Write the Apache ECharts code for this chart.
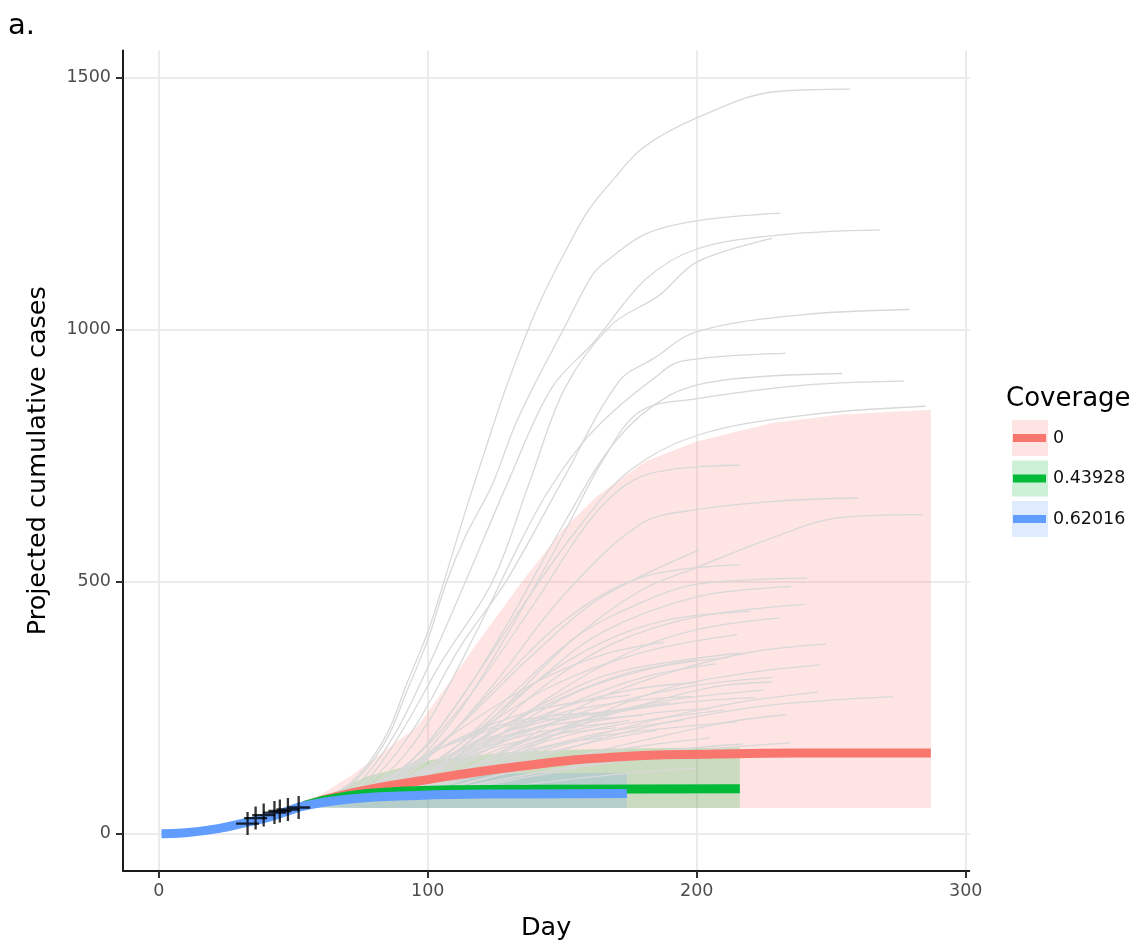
<!DOCTYPE html>
<html>
<head>
<meta charset="utf-8">
<title>Projected cumulative cases</title>
<script src="https://cdn.jsdelivr.net/npm/echarts@6/dist/echarts.min.js"></script>
<style>
  html, body { margin: 0; padding: 0; background: #fff; }
  #chart { width: 1140px; height: 946px; }
</style>
</head>
<body>
<div id="chart"></div>
<script>
// axis ticks
const dayTicks = [0, 100, 200, 300];
const caseTicks = [0, 500, 1000, 1500];

// legend
const coverageLevels = ["0", "0.43928", "0.62016"];
const coverageColors = ["#F8766D", "#00BA38", "#619CFF"];
const coverageFills = ["rgba(248,118,109,0.2)", "rgba(0,186,56,0.2)", "rgba(97,156,255,0.2)"];

// observed cumulative cases
const obsDays = [33, 36, 39, 43, 45, 48, 52];
const obsCases = [20, 31, 37, 42, 45, 48, 52];

// median projections, [day, cases]
const medianNone = [[54, 56], [71, 80], [96, 104], [133, 133], [170, 152], [207, 158], [240, 160], [287, 160]];
const medianLow = [[54, 56], [70, 75], [90, 84], [110, 87], [140, 88], [216, 89]];
const medianHigh = [[1, 0], [10, 2], [23, 11], [33, 23], [41, 33], [48, 45], [54, 55], [71, 69], [96, 76], [130, 79], [174, 80]];

// ribbons, [day, lower, upper]
const bandNone = [[54, 55, 55], [59, 52, 74], [71, 51, 113], [83, 51, 160], [96, 51, 212], [108, 51, 300], [120, 51, 390],
  [135, 51, 500], [150, 51, 602], [163, 51, 670], [181, 51, 739], [200, 51, 778], [228, 51, 815], [253, 51, 831], [287, 51, 841]];
const bandLow = [[54, 55, 55], [57, 52, 61], [77, 51, 113], [102, 51, 147], [133, 51, 163], [170, 51, 169], [216, 51, 171]];
const bandHigh = [[54, 55, 55], [57, 52, 60], [77, 51, 95], [102, 51, 113], [130, 51, 119], [174, 51, 121]];

// simulated trajectories (no vaccination), [day, cases]
const simRuns = [
  [[54, 58], [65, 78], [75, 120], [85, 200], [92, 295], [100, 400], [106, 500], [114, 640], [122, 772], [129, 884], [137, 996], [144, 1081], [153, 1174], [160, 1239], [169, 1298], [180, 1361], [200, 1420], [229, 1472], [257, 1477]],
  [[54, 58], [65, 76], [75, 115], [85, 190], [92, 280], [100, 385], [107, 500], [114, 590], [124, 693], [132, 805], [139, 884], [150, 996], [161, 1107], [166, 1134], [181, 1190], [200, 1216], [231, 1231]],
  [[54, 58], [66, 74], [76, 110], [88, 200], [100, 330], [114, 500], [130, 700], [146, 884], [162, 977], [181, 1100], [200, 1160], [231, 1188], [268, 1198]],
  [[54, 58], [67, 74], [78, 110], [90, 200], [105, 340], [124, 500], [138, 700], [151, 884], [168, 1008], [186, 1068], [200, 1134], [228, 1181]],
  [[54, 58], [68, 72], [80, 110], [95, 210], [112, 370], [129, 500], [150, 700], [171, 897], [184, 943], [200, 996], [240, 1030], [279, 1040]],
  [[54, 58], [70, 72], [85, 120], [100, 220], [118, 400], [134, 574], [144, 673], [157, 772], [169, 838], [184, 903], [194, 937], [233, 953]],
  [[54, 58], [72, 72], [90, 125], [110, 250], [130, 420], [150, 610], [170, 780], [190, 870], [210, 900], [254, 913]],
  [[54, 58], [72, 70], [90, 115], [110, 230], [130, 400], [150, 590], [165, 740], [179, 838], [200, 863], [240, 890], [277, 898]],
  [[54, 58], [75, 75], [95, 150], [115, 290], [135, 450], [155, 600], [175, 720], [200, 790], [240, 830], [285, 848]],
  [[54, 58], [75, 80], [95, 150], [115, 270], [140, 460], [163, 640], [181, 712], [216, 731]],
  [[54, 58], [80, 80], [100, 150], [125, 300], [150, 470], [179, 614], [200, 643], [230, 660], [260, 666]],
  [[54, 58], [85, 80], [110, 160], [130, 260], [155, 390], [179, 482], [200, 528], [228, 587], [253, 627], [284, 633]],
  [[54, 58], [80, 85], [105, 180], [125, 290], [150, 420], [179, 508], [216, 534]],
  [[54, 58], [85, 85], [110, 170], [130, 270], [155, 390], [180, 460], [200, 495], [241, 507]],
  [[54, 58], [85, 82], [115, 180], [140, 300], [165, 400], [200, 470], [235, 490]],
  [[54, 58], [90, 88], [120, 190], [145, 300], [170, 380], [200, 430], [240, 455]],
  [[54, 58], [90, 85], [120, 170], [145, 270], [175, 360], [200, 405], [231, 428]],
  [[54, 58], [85, 90], [115, 190], [140, 300], [165, 380], [190, 425], [220, 441]],
  [[54, 58], [95, 88], [130, 170], [160, 260], [190, 320], [220, 360], [248, 376]],
  [[54, 58], [95, 85], [130, 150], [160, 230], [190, 290], [220, 320], [246, 335]],
  [[54, 58], [90, 90], [115, 170], [140, 250], [170, 320], [216, 358]],
  [[54, 58], [95, 88], [120, 160], [150, 250], [180, 310], [207, 337]],
  [[54, 58], [100, 88], [140, 150], [180, 210], [220, 250], [250, 265], [273, 272]],
  [[54, 58], [100, 82], [140, 120], [180, 150], [210, 170], [235, 180]],
  [[54, 58], [90, 95], [120, 180], [150, 250], [175, 285], [200, 300]],
  [[54, 58], [90, 92], [120, 170], [150, 225], [190, 260]],
  [[54, 58], [100, 95], [130, 170], [160, 230], [190, 265], [225, 285]],
  [[54, 58], [85, 95], [110, 160], [140, 210], [180, 235]],
  [[54, 58], [95, 88], [125, 150], [160, 205], [210, 245]],
  [[54, 58], [85, 92], [110, 150], [140, 200], [170, 220]],
  [[54, 58], [95, 84], [125, 140], [160, 195], [195, 225]],
  [[54, 58], [80, 98], [105, 170], [130, 220], [160, 240]],
  [[54, 58], [95, 82], [130, 140], [160, 180], [185, 205]],
  [[54, 58], [95, 98], [125, 175], [160, 245], [195, 290], [228, 310]],
  [[54, 58], [100, 82], [140, 135], [175, 170], [205, 190]],
  [[54, 58], [85, 105], [110, 185], [140, 245], [175, 275]],
  [[54, 58], [80, 100], [105, 170], [130, 215], [150, 230]],
  [[54, 58], [90, 100], [115, 190], [145, 290], [180, 360], [215, 395]],
  [[54, 58], [85, 105], [110, 200], [140, 300], [165, 355], [188, 380]],
  [[54, 58], [90, 98], [120, 190], [150, 270], [175, 320], [200, 345]],
  [[54, 58], [90, 86], [120, 140], [145, 175], [165, 190]],
  [[54, 58], [100, 84], [140, 135], [180, 185], [210, 220], [233, 236]],
  [[54, 58], [100, 78], [140, 115], [170, 145], [196, 160]],
  [[54, 58], [100, 95], [140, 160], [180, 220], [215, 260], [245, 281]],
  [[54, 58], [88, 105], [113, 220], [140, 360], [165, 470], [201, 563]],
  [[54, 58], [100, 90], [135, 170], [170, 240], [205, 290], [228, 301]],
  [[54, 58], [92, 95], [125, 190], [155, 280], [185, 330], [212, 350]],
  [[54, 58], [100, 75], [140, 100], [175, 120], [200, 130]],
  [[54, 58], [95, 80], [130, 120], [165, 150], [187, 160]],
  [[54, 58], [100, 80], [150, 130], [190, 165], [217, 178]],
  [[54, 58], [95, 95], [125, 165], [155, 215], [185, 240], [205, 248]],
  [[54, 58], [90, 100], [120, 175], [150, 225], [180, 250]],
  [[54, 58], [100, 92], [130, 150], [160, 190], [190, 210], [215, 222]],
  [[54, 58], [92, 100], [120, 180], [150, 240], [178, 265], [198, 272]],
  [[54, 58], [95, 90], [125, 155], [150, 200], [175, 225]],
  [[54, 58], [88, 100], [115, 175], [145, 225], [172, 245]],
  [[54, 58], [100, 100], [135, 180], [165, 235], [195, 260], [222, 270]],
  [[54, 58], [90, 95], [118, 160], [145, 195], [170, 210]]
];

const FONT = "DejaVu Sans";
const chart = echarts.init(document.getElementById("chart"), null, { renderer: "canvas" });

function bandSeries(band, fill) {
  return {
    type: "custom",
    silent: true,
    data: band,
    encode: { x: 0, y: [1, 2] },
    renderItem: function (params, api) {
      if (params.dataIndex !== 0) return null;
      const top = band.map(p => api.coord([p[0], p[2]]));
      const bottom = band.slice().reverse().map(p => api.coord([p[0], p[1]]));
      return {
        type: "polygon",
        shape: { points: top.concat(bottom) },
        style: { fill: fill }
      };
    }
  };
}

function medianSeries(data, color) {
  return {
    type: "line",
    data: data,
    showSymbol: false,
    silent: true,
    smooth: 0.5,
    lineStyle: { color: color, width: 9, cap: "butt" }
  };
}

let series = [];
simRuns.forEach(run => {
  series.push({
    type: "line",
    data: run,
    showSymbol: false,
    silent: true,
    smooth: 0.35,
    lineStyle: { color: "#d8d8d8", width: 1.3 }
  });
});
series.push(bandSeries(bandNone, coverageFills[0]));
series.push(bandSeries(bandLow, coverageFills[1]));
series.push(bandSeries(bandHigh, coverageFills[2]));
series.push(medianSeries(medianNone, coverageColors[0]));
series.push(medianSeries(medianLow, coverageColors[1]));
series.push(medianSeries(medianHigh, coverageColors[2]));
series.push({
  type: "scatter",
  z: 10,
  data: obsDays.map((d, i) => [d, obsCases[i]]),
  symbol: "path://M9,0H11V9H20V11H11V20H9V11H0V9H9Z",
  symbolSize: 23,
  silent: true,
  itemStyle: { color: "#000" }
});

// legend drawn by hand: filled key, thick line, label
let legendParts = [{
  type: "text",
  left: 1006,
  top: 386,
  style: { text: "Coverage", font: "26px '" + FONT + "'", fill: "#000" }
}];
coverageLevels.forEach((lvl, i) => {
  const y0 = 420 + i * 40.5;
  legendParts.push({ type: "rect", shape: { x: 1012, y: y0, width: 36, height: 36 }, style: { fill: coverageFills[i] } });
  legendParts.push({ type: "line", shape: { x1: 1013, y1: y0 + 18, x2: 1046, y2: y0 + 18 }, style: { stroke: coverageColors[i], lineWidth: 8 } });
  legendParts.push({ type: "text", x: 1053, y: y0 + 18, style: { text: lvl, font: "17.5px '" + FONT + "'", fill: "#111", verticalAlign: "middle" } });
});
legendParts.push({
  type: "text",
  left: 8,
  top: 12,
  style: { text: "a.", font: "29px '" + FONT + "'", fill: "#000" }
});

const axisCommon = {
  type: "value",
  axisLine: { show: true, onZero: false, lineStyle: { color: "#1a1a1a", width: 2 } },
  splitLine: { show: true, lineStyle: { color: "#ebebeb", width: 2 } },
  nameLocation: "middle",
  nameTextStyle: { fontFamily: FONT, fontSize: 25.5, color: "#000" }
};

chart.setOption({
  animation: false,
  backgroundColor: "#fff",
  grid: { left: 123, right: 170.7, top: 50.4, bottom: 71 },
  xAxis: Object.assign({}, axisCommon, {
    min: -13.3,
    max: 301.3,
    name: "Day",
    nameGap: 44,
    axisTick: { show: true, customValues: dayTicks, length: 7, lineStyle: { color: "#333", width: 2 } },
    axisLabel: { customValues: dayTicks, formatter: v => String(v), color: "#4d4d4d", fontFamily: FONT, fontSize: 17.5, margin: 11 }
  }),
  yAxis: Object.assign({}, axisCommon, {
    min: -74,
    max: 1554,
    name: "Projected cumulative cases",
    nameGap: 72,
    axisTick: { show: true, customValues: caseTicks, length: 7, lineStyle: { color: "#333", width: 2 } },
    axisLabel: { customValues: caseTicks, formatter: v => String(v), color: "#4d4d4d", fontFamily: FONT, fontSize: 17.5, margin: 12 }
  }),
  graphic: legendParts,
  series: series
});
</script>
</body>
</html>
